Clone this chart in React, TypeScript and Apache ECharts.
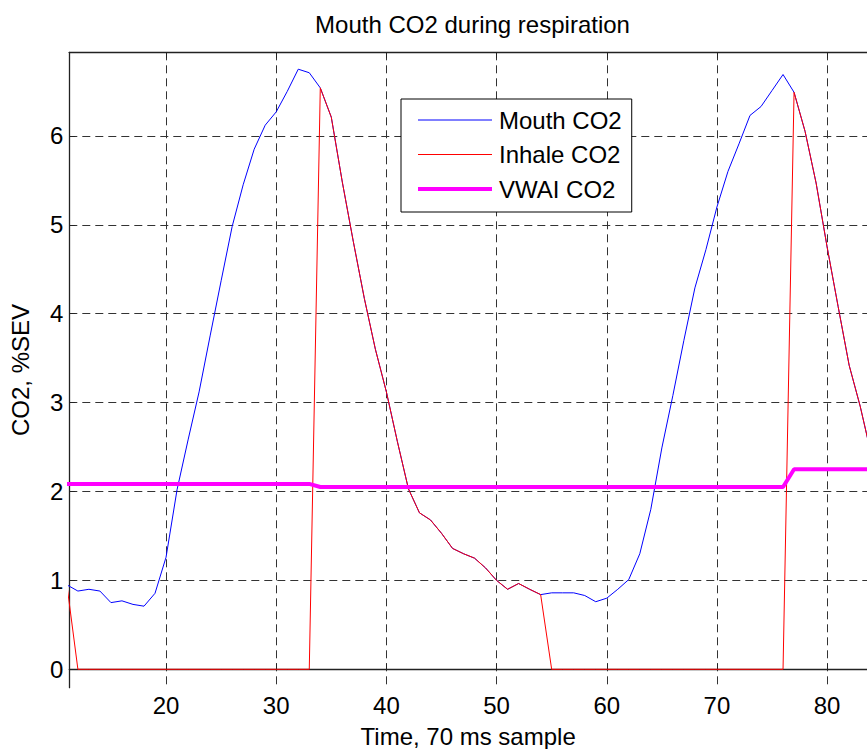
import React, { useEffect, useRef } from "react";
import * as echarts from "echarts";

// Sample index (x axis, 70 ms samples)
const sampleIndex = [
  11, 12, 13, 14, 15, 16, 17, 18, 19, 20,
  21, 22, 23, 24, 25, 26, 27, 28, 29, 30,
  31, 32, 33, 34, 35, 36, 37, 38, 39, 40,
  41, 42, 43, 44, 45, 46, 47, 48, 49, 50,
  51, 52, 53, 54, 55, 56, 57, 58, 59, 60,
  61, 62, 63, 64, 65, 66, 67, 68, 69, 70,
  71, 72, 73, 74, 75, 76, 77, 78, 79, 80,
  81, 82, 83, 84,
];

const mouthCO2 = [
  0.95, 0.88, 0.9, 0.88, 0.75, 0.77, 0.73, 0.71, 0.855, 1.26,
  2.02, 2.58, 3.12, 3.75, 4.37, 4.98, 5.45, 5.85, 6.12, 6.27,
  6.5, 6.75, 6.71, 6.54, 6.21, 5.48, 4.81, 4.17, 3.6, 3.12,
  2.56, 2.03, 1.76, 1.68, 1.53, 1.36, 1.3, 1.25, 1.14, 1.0,
  0.9, 0.965, 0.9, 0.84, 0.86, 0.86, 0.86, 0.83, 0.76, 0.8,
  0.9, 1.01, 1.3, 1.8, 2.49, 3.08, 3.7, 4.29, 4.72, 5.2,
  5.6, 5.91, 6.23, 6.33, 6.51, 6.69, 6.49, 6.05, 5.47, 4.75,
  4.08, 3.42, 2.96, 2.42,
];

const inhaleCO2 = [
  0.95, 0, 0, 0, 0, 0, 0, 0, 0, 0,
  0, 0, 0, 0, 0, 0, 0, 0, 0, 0,
  0, 0, 0, 6.54, 6.21, 5.48, 4.81, 4.17, 3.6, 3.12,
  2.56, 2.03, 1.76, 1.68, 1.53, 1.36, 1.3, 1.25, 1.14, 1.0,
  0.9, 0.965, 0.9, 0.84, 0, 0, 0, 0, 0, 0,
  0, 0, 0, 0, 0, 0, 0, 0, 0, 0,
  0, 0, 0, 0, 0, 0, 6.49, 6.05, 5.47, 4.75,
  4.08, 3.42, 2.96, 2.42,
];

const vwaiCO2 = [
  2.085, 2.085, 2.085, 2.085, 2.085, 2.085, 2.085, 2.085, 2.085, 2.085,
  2.085, 2.085, 2.085, 2.085, 2.085, 2.085, 2.085, 2.085, 2.085, 2.085,
  2.085, 2.085, 2.085, 2.05, 2.05, 2.05, 2.05, 2.05, 2.05, 2.05,
  2.05, 2.05, 2.05, 2.05, 2.05, 2.05, 2.05, 2.05, 2.05, 2.05,
  2.05, 2.05, 2.05, 2.05, 2.05, 2.05, 2.05, 2.05, 2.05, 2.05,
  2.05, 2.05, 2.05, 2.05, 2.05, 2.05, 2.05, 2.05, 2.05, 2.05,
  2.05, 2.05, 2.05, 2.05, 2.05, 2.05, 2.25, 2.25, 2.25, 2.25,
  2.25, 2.25, 2.25, 2.25,
];

const xTicks = [20, 30, 40, 50, 60, 70, 80];
const yTicks = [0, 1, 2, 3, 4, 5, 6];

const FONT = "'Liberation Sans', Arial, Helvetica, sans-serif";

const pairs = (ys: number[]) => sampleIndex.map((x, i) => [x, ys[i]]);

export default function App() {
  const ref = useRef<HTMLDivElement>(null);

  useEffect(() => {
    if (!ref.current) return;
    const chart = echarts.init(ref.current, undefined, { renderer: "svg" });

    const axisLineStyle = { color: "#222", width: 1.3 };
    const gridLine = { color: "#333", width: 1, type: [8, 5] as any };

    chart.setOption({
      animation: false,
      backgroundColor: "#fff",
      textStyle: { fontFamily: FONT },
      grid: {
        left: 69.3,
        top: 52.3,
        right: 0,
        bottom: 61.3,
        outerBoundsMode: "none",
        containLabel: false,
      },
      graphic: [
        {
          type: "text",
          x: 472.5,
          y: 24,
          style: {
            text: "Mouth CO2 during respiration",
            font: `24px ${FONT}`,
            fill: "#000",
            align: "center",
            verticalAlign: "middle",
          },
        },
      ],
      legend: {
        orient: "vertical",
        left: 401,
        top: 99,
        padding: [9, 10, 11, 15],
        itemGap: 10.5,
        itemWidth: 74,
        itemHeight: 24,
        backgroundColor: "#fff",
        borderColor: "#000",
        borderWidth: 1,
        borderRadius: 0,
        itemStyle: { opacity: 0 },
        textStyle: {
          fontSize: 24,
          color: "#000",
          fontFamily: FONT,
          lineHeight: 24,
          padding: [0, 0, 0, 2],
        },
        data: [
          { name: "Mouth CO2", lineStyle: { width: 1, color: "#0000ff" } },
          { name: "Inhale CO2", lineStyle: { width: 1, color: "#ff0000" } },
          { name: "VWAI CO2", lineStyle: { width: 4, color: "#ff00ff" } },
        ],
      },
      xAxis: [
        {
          type: "value",
          position: "bottom",
          min: 11.22,
          max: 83.62,
          name: "Time, 70 ms sample",
          nameLocation: "middle",
          nameGap: 37,
          nameTextStyle: { fontSize: 24, color: "#000", fontFamily: FONT },
          axisLine: { show: true, lineStyle: axisLineStyle },
          axisTick: { show: true, inside: true, length: 6, customValues: xTicks, lineStyle: { color: "#222" } },
          axisLabel: { show: true, customValues: xTicks, margin: 6, fontSize: 24, color: "#000", fontFamily: FONT },
          splitLine: { show: true, lineStyle: gridLine },
        },
        {
          type: "value",
          position: "top",
          min: 11.22,
          max: 83.62,
          axisLine: { show: true, lineStyle: axisLineStyle },
          axisTick: { show: true, inside: true, length: 6, customValues: xTicks, lineStyle: { color: "#222" } },
          axisLabel: { show: false },
          splitLine: { show: false },
        },
      ],
      yAxis: [
        {
          type: "value",
          min: -0.207,
          max: 6.94,
          name: "CO2, %SEV",
          nameLocation: "middle",
          nameGap: 37,
          nameTextStyle: { fontSize: 24, color: "#000", fontFamily: FONT },
          axisLine: { show: true, lineStyle: axisLineStyle },
          axisTick: { show: true, inside: true, length: 6, customValues: yTicks, lineStyle: { color: "#222" } },
          axisLabel: { show: true, customValues: yTicks, margin: 6, fontSize: 24, color: "#000", fontFamily: FONT },
          splitLine: { show: true, lineStyle: gridLine },
        },
      ],
      series: [
        {
          name: "Mouth CO2",
          type: "line",
          data: pairs(mouthCO2),
          symbol: "none",
          lineStyle: { color: "#0000ff", width: 1 },
          itemStyle: { color: "#0000ff" },
          clip: true,
        },
        {
          name: "Inhale CO2",
          type: "line",
          data: pairs(inhaleCO2),
          symbol: "none",
          lineStyle: { color: "#ff0000", width: 1 },
          itemStyle: { color: "#ff0000" },
          clip: true,
        },
        {
          name: "VWAI CO2",
          type: "line",
          data: pairs(vwaiCO2),
          symbol: "none",
          lineStyle: { color: "#ff00ff", width: 4 },
          itemStyle: { color: "#ff00ff" },
          clip: true,
        },
      ],
    });

    return () => chart.dispose();
  }, []);

  return (
    <div style={{ position: "fixed", left: 0, top: 0, width: 867, height: 749, overflow: "hidden", background: "#fff" }}>
      <div ref={ref} style={{ width: 867, height: 749 }} />
    </div>
  );
}
